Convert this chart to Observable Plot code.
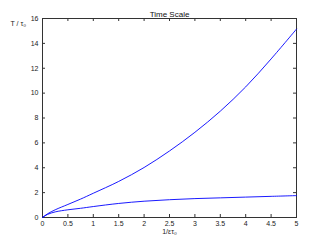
<!DOCTYPE html>
<html><head><meta charset="utf-8">
<script src="https://cdn.jsdelivr.net/npm/d3@7"></script>
<script src="https://cdn.jsdelivr.net/npm/@observablehq/plot@0.6"></script>
<style>body{margin:0;background:#fff}</style>
</head><body><div id="c"></div>
<script>
const xs = [0, 0.1, 0.25, 0.5, 0.75, 1, 1.5, 2, 2.5, 3, 3.5, 4, 4.5, 5];
const upper = [0, 0.3, 0.62, 1.05, 1.48, 1.95, 2.9, 4.02, 5.35, 6.85, 8.55, 10.5, 12.75, 15.15];
const lower = [0, 0.25, 0.45, 0.62, 0.74, 0.88, 1.13, 1.31, 1.43, 1.52, 1.58, 1.64, 1.7, 1.76];
const xTicks = [0, 0.5, 1, 1.5, 2, 2.5, 3, 3.5, 4, 4.5, 5];
const yTicks = [0, 2, 4, 6, 8, 10, 12, 14, 16];
const title = "Time Scale";
const xLabel = "1/ετ₀";
const yLabel = "T / τ₀";

const rows = [];
xs.forEach((x, i) => { rows.push({x, y: upper[i], s: "upper"}); rows.push({x, y: lower[i], s: "lower"}); });

const axisColor = "#333";
const chart = Plot.plot({
  width: 327, height: 245,
  marginLeft: 42, marginRight: 31, marginTop: 18, marginBottom: 28,
  style: {fontFamily: "Liberation Sans, Arial, sans-serif", fontSize: "7px", color: "#222", background: "#fff"},
  x: {domain: [0, 5]},
  y: {domain: [0, 16]},
  marks: [
    Plot.frame({stroke: axisColor}),
    Plot.tickX(xTicks, {x: d => d, insetTop: 196, stroke: axisColor}),
    Plot.tickX(xTicks, {x: d => d, insetBottom: 196, stroke: axisColor}),
    Plot.tickY(yTicks, {y: d => d, insetRight: 251, stroke: axisColor}),
    Plot.tickY(yTicks, {y: d => d, insetLeft: 251, stroke: axisColor}),
    Plot.axisX({ticks: xTicks, tickSize: 0, tickPadding: 4, label: null, tickFormat: d => String(d)}),
    Plot.axisY({ticks: yTicks, tickSize: 0, tickPadding: 4, label: null}),
    Plot.line(rows, {x: "x", y: "y", z: "s", stroke: "#0000ff", strokeWidth: 0.9, curve: "catmull-rom"}),
    Plot.text([title], {frameAnchor: "top", dy: -7, text: d => d, fontSize: 8, fill: "#111"}),
    Plot.text([xLabel], {frameAnchor: "bottom", dy: 16, text: d => d, fontSize: 7, fill: "#222"}),
    Plot.text([yLabel], {frameAnchor: "top-left", dx: -32, dy: 3, textAnchor: "start", text: d => d, fontSize: 7, fill: "#222"})
  ]
});
document.getElementById("c").appendChild(chart);
</script>
</body></html>
